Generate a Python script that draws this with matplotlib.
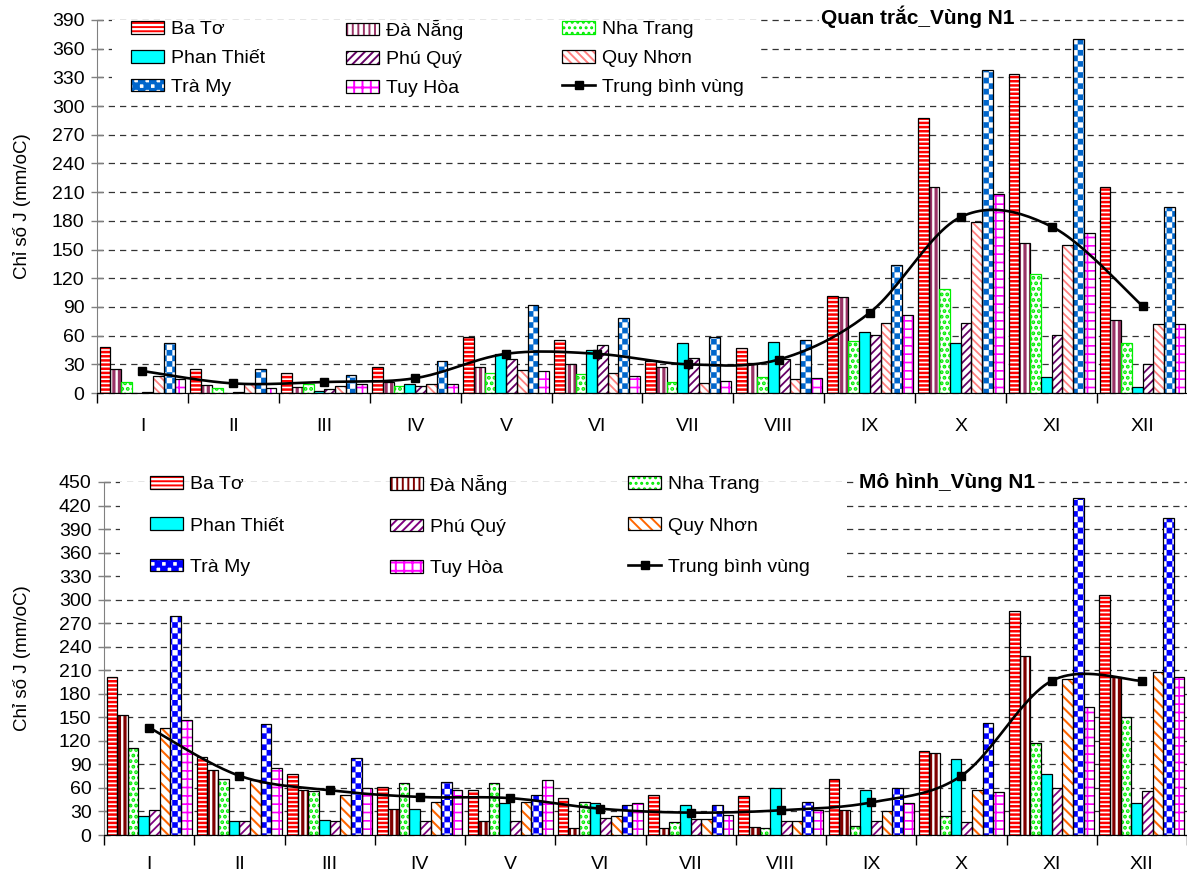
import numpy as np
import matplotlib
matplotlib.use('Agg')
import matplotlib.pyplot as plt
import matplotlib.hatch as mhatch
from matplotlib.path import Path
from matplotlib.patches import Rectangle
from matplotlib.lines import Line2D
from matplotlib.legend import Legend

plt.rcParams['font.family'] = 'Liberation Sans'
plt.rcParams['hatch.linewidth'] = 1.4

W, H = 1187, 877
FONT = 14

MONTHS = ['I', 'II', 'III', 'IV', 'V', 'VI', 'VII', 'VIII', 'IX', 'X', 'XI', 'XII']
STATIONS = ['Ba Tơ', 'Đà Nẵng', 'Nha Trang', 'Phan Thiết', 'Phú Quý', 'Quy Nhơn', 'Trà My', 'Tuy Hòa']
MEAN_LABEL = 'Trung bình vùng'

# Quan trắc (observed), mm/oC
ba_to_obs = [48, 25, 21, 27.5, 58.5, 55.5, 33, 47, 101.5, 287.5, 334, 215]
da_nang_obs = [25, 8, 6.5, 11, 27.5, 30, 27.5, 31, 100, 215, 157, 76]
nha_trang_obs = [11, 5, 9, 7.5, 20.5, 19.5, 12, 16.5, 54, 108.5, 124, 52.5]
phan_thiet_obs = [0, 0, 2.5, 9, 41, 45, 52.5, 53.5, 64, 52.5, 17, 6.5]
phu_quy_obs = [1, 1, 4, 7.5, 36, 50, 37, 36, 61, 73.5, 61, 30]
quy_nhon_obs = [18, 9, 7.5, 9, 24.5, 20.5, 10.5, 14.5, 73.5, 178.5, 154.5, 72]
tra_my_obs = [52.5, 25, 19, 33, 91.5, 78, 58.5, 55.5, 134, 338, 370, 194]
tuy_hoa_obs = [15, 5, 9, 9, 23, 18, 13, 16, 82, 208, 167, 72]
mean_obs = [23, 10, 11.5, 15.5, 41, 41, 30, 35, 84, 184, 174, 91]

# Mô hình (model), mm/oC
ba_to_mod = [202, 100, 78, 61, 58, 47.5, 50.5, 49.5, 71.5, 107, 286, 306]
da_nang_mod = [152.5, 83, 57, 33.5, 18, 8.5, 8.5, 10, 32, 105, 228, 202]
nha_trang_mod = [110.5, 71, 56, 66, 66, 42.5, 17, 8.5, 12, 24, 117.5, 150]
phan_thiet_mod = [24, 18, 19.5, 33.5, 41, 40.5, 38, 60, 57.5, 97, 78, 41]
phu_quy_mod = [32, 18, 18, 18, 18, 22, 20.5, 18, 18, 17, 60, 56]
quy_nhon_mod = [136, 69.5, 51, 41.5, 42.5, 24.5, 20.5, 18, 30, 57.5, 199, 208]
tra_my_mod = [279.5, 141, 98.5, 67.5, 50.5, 38, 38, 42.5, 59.5, 143, 429, 403.5]
tuy_hoa_mod = [146.5, 85, 60.5, 57, 70, 41, 25.5, 32, 40.5, 54.5, 163.5, 202]
mean_mod = [137, 75.5, 57, 48.5, 47, 33.5, 28.5, 31.5, 41.5, 75.5, 196.5, 196.5]

OBS = [ba_to_obs, da_nang_obs, nha_trang_obs, phan_thiet_obs,
       phu_quy_obs, quy_nhon_obs, tra_my_obs, tuy_hoa_obs]
MOD = [ba_to_mod, da_nang_mod, nha_trang_mod, phan_thiet_mod,
       phu_quy_mod, quy_nhon_mod, tra_my_mod, tuy_hoa_mod]

OBS_STYLES = [
    dict(hatch='----', hcolor='#FF0000', edge='black', hlw=1.8),
    dict(hatch='|||', hcolor='#993366', edge='black', hlw=2.3),
    dict(hatch='...', hcolor='#00EE00', edge='#00EE00', hlw=1.9),
    dict(face='#00FFFF', edge='black'),
    dict(hatch='////', hcolor='#660066', edge='black', hlw=1.3),
    dict(hatch='\\\\\\\\', hcolor='#FF8080', edge='black', hlw=1.3),
    dict(hatch='OOO', hcolor='#0066CC', edge='black', hlw=0.1),
    dict(hatch='++', hcolor='#FF00FF', edge='black', hlw=1.2),
]
MOD_STYLES = [
    dict(hatch='----', hcolor='#FF0000', edge='black', hlw=1.8),
    dict(hatch='|||', hcolor='#800000', edge='black', hlw=2.3),
    dict(hatch='...', hcolor='#00EE00', edge='black', hlw=1.9),
    dict(face='#00FFFF', edge='black'),
    dict(hatch='////', hcolor='#800080', edge='black', hlw=1.3),
    dict(hatch='\\\\\\', hcolor='#FF6600', edge='black', hlw=1.5),
    dict(hatch='OOO', hcolor='#0000FF', edge='black', hlw=0.1),
    dict(hatch='++', hcolor='#FF00FF', edge='black', hlw=1.2),
]

BAR_W = 0.118


class CheckerHatch(mhatch.HatchPatternBase):
    """Filled checkerboard, takes over the 'O' hatch letter."""

    def __init__(self, hatch, density):
        n = hatch.count('O') * density
        self.cells = [(r, c) for r in range(n) for c in range(n) if (r + c) % 2 == 0]
        self.size = 1.0 / n if n else 0
        self.num_vertices = 5 * len(self.cells)

    def set_vertices_and_codes(self, vertices, codes):
        s = self.size
        sq = np.array([[0, 0], [1, 0], [1, 1], [0, 1], [0, 0]]) * s
        for i, (r, c) in enumerate(self.cells):
            vertices[5 * i:5 * i + 5] = sq + (c * s, r * s)
            codes[5 * i:5 * i + 5] = [Path.MOVETO, Path.LINETO, Path.LINETO,
                                      Path.LINETO, Path.CLOSEPOLY]


mhatch._hatch_types[mhatch._hatch_types.index(mhatch.LargeCircles)] = CheckerHatch


def fx(px):
    return px / W


def fy(py):
    return 1 - py / H


def set_hlw(patch, lw):
    if hasattr(patch, 'set_hatch_linewidth'):
        patch.set_hatch_linewidth(lw)


def smooth(xs, ys, n=24):
    # Catmull-Rom through the points, like Excel's smoothed line
    p = np.column_stack([xs, ys]).astype(float)
    p = np.vstack([p[0], p, p[-1]])
    t = np.linspace(0, 1, n, endpoint=False)[:, None]
    out = []
    for i in range(1, len(p) - 2):
        p0, p1, p2, p3 = p[i - 1], p[i], p[i + 1], p[i + 2]
        out.append(0.5 * (2 * p1 + (p2 - p0) * t
                          + (2 * p0 - 5 * p1 + 4 * p2 - p3) * t ** 2
                          + (3 * p1 - p0 - 3 * p2 + p3) * t ** 3))
    out.append(p[-2][None])
    return np.vstack(out).T


def draw_series(ax, x, vals, st):
    face = st.get('face', 'white')
    hatch = st.get('hatch')
    hcolor = st.get('hcolor', face)
    fill = ax.bar(x, vals, BAR_W, color=face, edgecolor=hcolor, linewidth=0,
                  hatch=hatch, zorder=2)
    ax.bar(x, vals, BAR_W, fill=False, edgecolor=st['edge'], linewidth=0.9, zorder=2.1)
    h_fill = Rectangle((0, 0), 1, 1, facecolor=face, edgecolor=hcolor,
                       linewidth=0, hatch=hatch)
    if hatch:
        for p in list(fill) + [h_fill]:
            set_hlw(p, st['hlw'])
    h_edge = Rectangle((0, 0), 1, 1, fill=False, edgecolor=st['edge'], linewidth=0.9)
    return (h_fill, h_edge)


def plot_panel(ax, series, mean, styles, ymax, title, title_xy, legend_xs,
               legend_ymid, legend_gap, cover, month_pad):
    centers = np.arange(len(MONTHS)) + 0.5
    handles = []
    for k, (vals, st) in enumerate(zip(series, styles)):
        x = centers + (k - 3.5) * BAR_W
        handles.append(draw_series(ax, x, vals, st))

    sx, sy = smooth(centers, mean)
    ax.plot(sx, sy, color='black', linewidth=1.9, zorder=3)
    ax.plot(centers, mean, 's', color='black', markersize=6, zorder=3.1)
    handles.append(Line2D([], [], color='black', linewidth=1.9, marker='s', markersize=6))
    labels = STATIONS + [MEAN_LABEL]

    ax.set_xlim(0, len(MONTHS))
    ax.set_ylim(0, ymax)
    ax.set_yticks(np.arange(0, ymax + 1, 30))
    ax.set_axisbelow(True)
    ax.yaxis.grid(True, color='#333333', linestyle=(0, (5, 4)), linewidth=0.9)
    for gl in ax.get_ygridlines():
        gl.set_clip_on(False)

    ax.set_xticks(np.arange(len(MONTHS) + 1))
    ax.set_xticklabels([])
    ax.set_xticks(centers, minor=True)
    ax.set_xticklabels(MONTHS, minor=True)
    ax.tick_params(axis='x', which='major', direction='out', length=7, width=1, color='black')
    ax.tick_params(axis='x', which='minor', length=0, pad=month_pad, labelsize=FONT)
    ax.tick_params(axis='y', direction='inout', length=9, width=1, color='#808080',
                   labelsize=FONT, pad=4.5)
    for side in ('top', 'right'):
        ax.spines[side].set_visible(False)
    ax.spines['left'].set_color('#808080')
    ax.spines['bottom'].set_color('black')

    ax.set_ylabel('Chỉ số J (mm/oC)', fontsize=13.5)

    # white area behind the legend hides the grid
    x0, y0, x1, y1 = cover
    ax.add_patch(Rectangle((fx(x0), fy(y1)), fx(x1) - fx(x0), fy(y0) - fy(y1),
                           transform=ax.figure.transFigure, facecolor='white',
                           edgecolor='none', zorder=1.5))

    for col in range(3):
        idx = [col, col + 3, col + 6]
        leg = Legend(ax, [handles[i] for i in idx], [labels[i] for i in idx],
                     loc='center left', bbox_to_anchor=(fx(legend_xs[col]), fy(legend_ymid)),
                     bbox_transform=ax.figure.transFigure, frameon=False,
                     borderpad=0, borderaxespad=0, fontsize=FONT,
                     handlelength=1.7, handleheight=0.62, handletextpad=0.35,
                     labelspacing=legend_gap)
        ax.add_artist(leg)

    ax.figure.text(fx(title_xy[0]), fy(title_xy[1]), title, fontsize=15,
                   fontweight='bold', ha='center', va='center',
                   bbox=dict(facecolor='white', edgecolor='none', pad=2))


def main():
    fig = plt.figure(figsize=(W / 100, H / 100), dpi=100)
    ax1 = fig.add_axes([fx(97), fy(393), (1188 - 97) / W, (393 - 20) / H])
    ax2 = fig.add_axes([fx(104), fy(835), (1187 - 104) / W, (835 - 482) / H])

    plot_panel(ax1, OBS, mean_obs, OBS_STYLES, 390, 'Quan trắc_Vùng N1', (918, 17),
               (131, 346, 562), 58.5, 0.6, (112, 0, 757, 95), 18)
    plot_panel(ax2, MOD, mean_mod, MOD_STYLES, 450, 'Mô hình_Vùng N1', (947, 483),
               (150, 390, 628), 526, 1.25, (120, 470, 842, 589), 15)

    ax1.yaxis.set_label_coords((31 - 97) / 1091, 0.5)
    ax2.yaxis.set_label_coords((31 - 104) / 1083, 0.5)

    fig.savefig('out.png', dpi=100)


if __name__ == '__main__':
    main()
